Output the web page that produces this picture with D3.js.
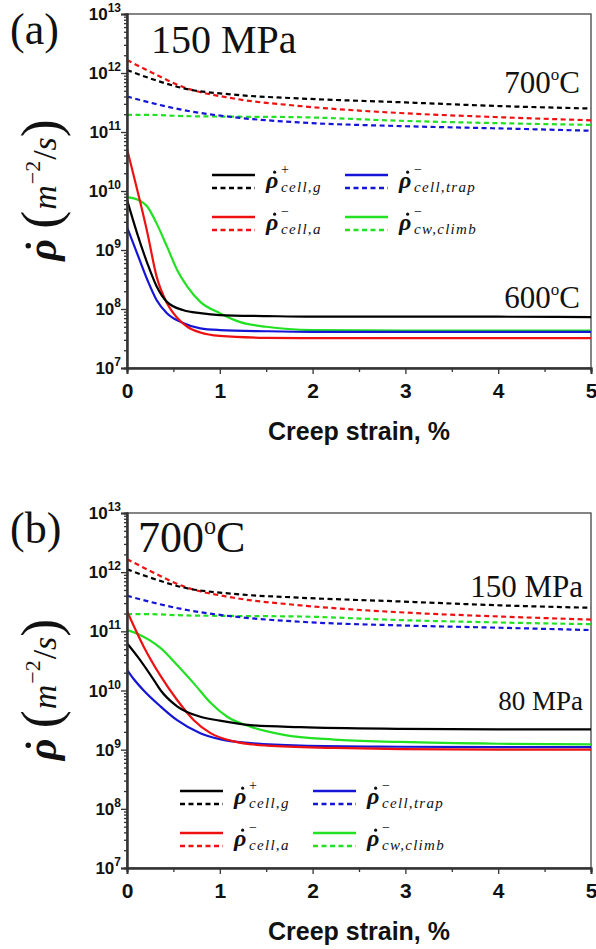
<!DOCTYPE html>
<html>
<head>
<meta charset="utf-8">
<script src="https://cdn.jsdelivr.net/npm/d3@7"></script>
<style>
  body { margin: 0; background: #fff; }
  svg { display: block; }
  .serif { font-family: "Liberation Serif", "Times New Roman", serif; }
  .sans { font-family: "Liberation Sans", Arial, sans-serif; font-weight: bold; }
</style>
</head>
<body>
<svg id="chart" width="596" height="949"></svg>
<script>
/********** data **********/
var strainTicks = [0, 1, 2, 3, 4, 5];
var decadeTicks = [7, 8, 9, 10, 11, 12, 13];

// 700 C / 150 MPa (dashed, same curves in both panels)
var hotX      = [0, 0.25, 0.61, 1.15, 1.87, 2.94, 4.02, 5];
var hotCellG  = [1.12e12, 8.1e11, 5.5e11, 4.3e11, 3.7e11, 3.2e11, 2.75e11, 2.5e11];
var hotCellA  = [1.66e12, 1.05e12, 5.75e11, 3.7e11, 2.75e11, 2.1e11, 1.78e11, 1.58e11];
var hotTrap   = [4.0e11, 3.15e11, 2.35e11, 1.78e11, 1.45e11, 1.26e11, 1.15e11, 1.05e11];
var hotClimb  = [1.95e11, 1.95e11, 1.86e11, 1.82e11, 1.78e11, 1.55e11, 1.41e11, 1.32e11];

// (a) 600 C / 150 MPa (solid)
var aGX     = [0, 0.11, 0.22, 0.32, 0.43, 0.61, 0.79, 1.0, 1.5, 2, 3, 4, 5];
var aCellG  = [7.1e9, 1.9e9, 5.9e8, 2.4e8, 1.32e8, 9.5e7, 8.5e7, 7.9e7, 7.6e7, 7.4e7, 7.4e7, 7.4e7, 7.3e7];
var aTrapX  = [0, 0.11, 0.22, 0.32, 0.43, 0.61, 0.79, 1.0, 1.5, 2, 3, 4, 5];
var aTrap   = [2.45e9, 8.7e8, 3.1e8, 1.41e8, 8.5e7, 5.75e7, 4.7e7, 4.4e7, 4.2e7, 4.1e7, 4.1e7, 4.1e7, 4.1e7];
var aAX     = [0, 0.11, 0.22, 0.32, 0.43, 0.54, 0.65, 0.79, 1.0, 1.5, 2, 3, 4, 5];
var aCellA  = [5.2e10, 1.05e10, 1.95e9, 3.5e8, 1.26e8, 7.1e7, 5.0e7, 4.0e7, 3.5e7, 3.25e7, 3.2e7, 3.2e7, 3.2e7, 3.2e7];
var aClimbX = [0, 0.11, 0.22, 0.32, 0.43, 0.54, 0.65, 0.79, 1.0, 1.22, 1.5, 2, 3, 4, 5];
var aClimb  = [7.9e9, 7.2e9, 5.4e9, 2.8e9, 1.15e9, 4.6e8, 2.4e8, 1.32e8, 8.5e7, 6.0e7, 5.0e7, 4.4e7, 4.3e7, 4.3e7, 4.3e7];

// (b) 700 C / 80 MPa (solid)
var bGX     = [0, 0.14, 0.29, 0.36, 0.54, 0.79, 1.0, 1.33, 1.87, 2.95, 4, 5];
var bCellG  = [6.3e10, 3.3e10, 1.5e10, 1.02e10, 5.4e9, 3.6e9, 3.1e9, 2.6e9, 2.4e9, 2.25e9, 2.2e9, 2.2e9];
var bTrapX  = [0, 0.07, 0.18, 0.36, 0.54, 0.79, 1.0, 1.33, 1.87, 2.95, 4, 5];
var bTrap   = [2.24e10, 1.58e10, 1.0e10, 5.4e9, 3.15e9, 1.9e9, 1.51e9, 1.29e9, 1.17e9, 1.12e9, 1.1e9, 1.1e9];
var bAX     = [0, 0.18, 0.36, 0.54, 0.72, 0.9, 1.15, 1.51, 2.23, 2.95, 4, 5];
var bCellA  = [2.2e11, 5.5e10, 1.78e10, 6.9e9, 3.15e9, 1.9e9, 1.38e9, 1.17e9, 1.07e9, 1.02e9, 1.0e9, 1.0e9];
var bClimbX = [0, 0.14, 0.36, 0.54, 0.72, 0.9, 1.08, 1.33, 1.69, 2.23, 2.95, 4, 5];
var bClimb  = [1.05e11, 8.7e10, 5.25e10, 2.7e10, 1.32e10, 6.2e9, 3.6e9, 2.45e9, 1.78e9, 1.48e9, 1.35e9, 1.26e9, 1.23e9];

var colors = { g: "#000000", a: "#ee1111", trap: "#1515d5", climb: "#22e022" };

/********** drawing **********/
var svg = d3.select("#chart");
svg.append("rect").attr("width", 596).attr("height", 949).attr("fill", "#fff");

function zip(xs, ys) { return xs.map(function(d, i) { return [d, ys[i]]; }); }

// rho with a dot on top, drawn as glyph + small circle
function rhoDot(parent, x, y, size) {
    parent.append("text").attr("class", "serif").attr("x", x).attr("y", y)
        .attr("font-size", size).attr("font-weight", "bold").attr("font-style", "italic")
        .attr("fill", "#111").text("\u03c1");
    parent.append("circle").attr("cx", x + size * 0.36).attr("cy", y - size * 0.66)
        .attr("r", size * 0.065).attr("fill", "#111");
}

function drawPanel(p) {
    var g = svg.append("g");
    var x = d3.scaleLinear().domain([0, 5]).range([p.left, p.right]);
    var y = d3.scaleLog().domain([1e7, 1e13]).range([p.bottom, p.top]);

    // frame
    g.append("rect")
        .attr("x", p.left).attr("y", p.top)
        .attr("width", p.right - p.left).attr("height", p.bottom - p.top)
        .attr("fill", "none").attr("stroke", "#444").attr("stroke-width", 1.3);

    var line = d3.line()
        .x(function(d) { return x(d[0]); })
        .y(function(d) { return y(d[1]); })
        .curve(d3.curveMonotoneX);

    var clip = "clip" + p.name;
    svg.append("clipPath").attr("id", clip).append("rect")
        .attr("x", p.left).attr("y", p.top)
        .attr("width", p.right - p.left).attr("height", p.bottom - p.top);
    var lines = g.append("g").attr("clip-path", "url(#" + clip + ")");

    p.series.forEach(function(s) {
        lines.append("path")
            .attr("d", line(zip(s.x, s.y)))
            .attr("fill", "none")
            .attr("stroke", s.color)
            .attr("stroke-width", 2.2)
            .attr("stroke-dasharray", s.dash ? "5,3.5" : null);
    });

    // x axis
    var xMinor = x.ticks(10).filter(function(d) { return d % 1 !== 0; });
    g.append("g").attr("transform", "translate(0," + p.bottom + ")")
        .call(d3.axisBottom(x).tickValues(xMinor).tickSize(4).tickFormat(""));
    var xAx = g.append("g").attr("transform", "translate(0," + p.bottom + ")")
        .call(d3.axisBottom(x).tickValues(strainTicks).tickSize(6).tickFormat(d3.format("d")));
    xAx.selectAll("text")
        .attr("class", "sans").attr("font-size", 21).attr("fill", "#111")
        .attr("dy", null).attr("y", 30);

    // y axis
    var yMinor = y.ticks().filter(function(d) { return Math.abs(Math.log10(d) % 1) > 1e-6; });
    g.append("g").attr("transform", "translate(" + p.left + ",0)")
        .call(d3.axisLeft(y).tickValues(yMinor).tickSize(3).tickFormat(""));
    g.append("g").attr("transform", "translate(" + p.left + ",0)")
        .call(d3.axisLeft(y).tickValues(decadeTicks.map(function(e) { return Math.pow(10, e); }))
            .tickSize(6).tickFormat(""));

    g.selectAll(".domain").attr("stroke", "#333").attr("stroke-width", 2);
    g.selectAll(".tick line").attr("stroke", "#333").attr("stroke-width", 1.3);

    var yl = g.selectAll(".ylab").data(decadeTicks).enter().append("text")
        .attr("class", "sans")
        .attr("x", p.left - 6)
        .attr("y", function(e) { return y(Math.pow(10, e)) + 6; })
        .attr("text-anchor", "end").attr("font-size", 17).attr("fill", "#111");
    yl.append("tspan").text("10");
    yl.append("tspan").attr("dy", -8).attr("font-size", 12).text(function(e) { return e; });

    // axis titles
    g.append("text").attr("class", "sans")
        .attr("x", (p.left + p.right) / 2).attr("y", p.bottom + 72)
        .attr("text-anchor", "middle").attr("font-size", 25).attr("fill", "#111")
        .text("Creep strain, %");

    var yg = g.append("g");
    var yin = yg.append("g");
    rhoDot(yin, 0, 0, 42);
    var yt = yin.append("text").attr("class", "serif").attr("x", 32).attr("y", 0)
        .attr("fill", "#111").attr("font-size", 34);
    yt.append("tspan").attr("font-size", 54).attr("dy", 3).text("(");
    yt.append("tspan").attr("font-style", "italic").attr("dy", -3).attr("dx", 1).text("m");
    yt.append("tspan").attr("font-size", 22).attr("dy", -16).attr("dx", 1).text("\u2212" + "2");
    yt.append("tspan").attr("dy", 16).attr("dx", 1).text("/");
    yt.append("tspan").attr("font-style", "italic").text("s");
    yt.append("tspan").attr("font-size", 54).attr("dy", 3).text(")");
    var bb = yin.node().getBBox();
    yin.attr("transform", "translate(" + (-bb.x - bb.width / 2) + ",0)");
    yg.attr("transform", "translate(56," + ((p.top + p.bottom) / 2) + ") rotate(-90)");

    // legend
    var leg = g.append("g");
    var items = [
        { c: colors.g, sup: "+", sub: "cell,g", col: 0, row: 0 },
        { c: colors.trap, sup: "\u2212", sub: "cell,trap", col: 1, row: 0 },
        { c: colors.a, sup: "\u2212", sub: "cell,a", col: 0, row: 1 },
        { c: colors.climb, sup: "\u2212", sub: "cw,climb", col: 1, row: 1 }
    ];
    items.forEach(function(it) {
        var lx = p.legX + it.col * 133, ly = p.legY + it.row * 42;
        leg.append("line").attr("x1", lx).attr("x2", lx + 43).attr("y1", ly).attr("y2", ly)
            .attr("stroke", it.c).attr("stroke-width", 2.4);
        leg.append("line").attr("x1", lx).attr("x2", lx + 43).attr("y1", ly + 13).attr("y2", ly + 13)
            .attr("stroke", it.c).attr("stroke-width", 2.4).attr("stroke-dasharray", "5,3.5");
        rhoDot(leg, lx + 54, ly + 13, 24);
        leg.append("text").attr("class", "serif").attr("x", lx + 69).attr("y", ly - 1)
            .attr("font-size", 14).attr("fill", "#111").text(it.sup);
        leg.append("text").attr("class", "serif").attr("x", lx + 69).attr("y", ly + 17)
            .attr("font-size", 15).attr("font-style", "italic").attr("letter-spacing", 1.3)
            .attr("fill", "#111").text(it.sub);
    });

    // annotations
    p.notes.forEach(function(n) {
        var t = g.append("text").attr("class", "serif").attr("x", n.x).attr("y", n.y)
            .attr("font-size", n.size).attr("fill", "#111")
            .attr("text-anchor", n.anchor || "start");
        if (n.deg) {
            t.append("tspan").text(n.text);
            t.append("tspan").attr("font-size", n.size * 0.55).attr("dy", -n.size * 0.42).text("o");
            t.append("tspan").attr("dy", n.size * 0.42).text("C");
        } else {
            t.text(n.text);
        }
    });
}

function solid(xs, ys, c) { return { x: xs, y: ys, color: c, dash: false }; }
function dashed(xs, ys, c) { return { x: xs, y: ys, color: c, dash: true }; }

drawPanel({
    name: "a", left: 127, right: 591, top: 14, bottom: 368, legX: 212, legY: 175,
    series: [
        dashed(hotX, hotClimb, colors.climb), dashed(hotX, hotTrap, colors.trap),
        dashed(hotX, hotCellA, colors.a), dashed(hotX, hotCellG, colors.g),
        solid(aClimbX, aClimb, colors.climb), solid(aTrapX, aTrap, colors.trap),
        solid(aAX, aCellA, colors.a), solid(aGX, aCellG, colors.g)
    ],
    notes: [
        { text: "(a)", x: 10, y: 44, size: 44 },
        { text: "150 MPa", x: 151, y: 53, size: 40 },
        { text: "700", deg: true, x: 580, y: 93, size: 31, anchor: "end" },
        { text: "600", deg: true, x: 580, y: 308, size: 31, anchor: "end" }
    ]
});

drawPanel({
    name: "b", left: 127, right: 591, top: 513, bottom: 868, legX: 180, legY: 791,
    series: [
        dashed(hotX, hotClimb, colors.climb), dashed(hotX, hotTrap, colors.trap),
        dashed(hotX, hotCellA, colors.a), dashed(hotX, hotCellG, colors.g),
        solid(bClimbX, bClimb, colors.climb), solid(bTrapX, bTrap, colors.trap),
        solid(bAX, bCellA, colors.a), solid(bGX, bCellG, colors.g)
    ],
    notes: [
        { text: "(b)", x: 10, y: 543, size: 44 },
        { text: "700", deg: true, x: 138, y: 552, size: 44 },
        { text: "150 MPa", x: 583, y: 597, size: 31, anchor: "end" },
        { text: "80 MPa", x: 583, y: 710, size: 27, anchor: "end" }
    ]
});
</script>
</body>
</html>
